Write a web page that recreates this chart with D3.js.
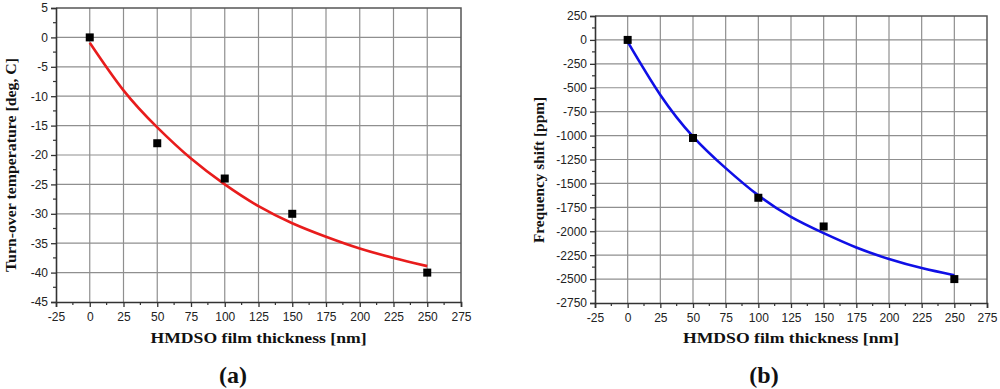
<!DOCTYPE html>
<html>
<head>
<meta charset="utf-8">
<script src="https://cdn.jsdelivr.net/npm/d3@7"></script>
<style>
  body { margin: 0; background: #fff; }
  svg { display: block; }
  .tick text { font-family: "Liberation Sans", Arial, sans-serif; font-size: 12px; fill: #222; }
  .title { font-family: "Liberation Serif", "Times New Roman", serif; font-weight: bold; fill: #111; }
</style>
</head>
<body>
<div id="chart"></div>
<script>
// measured thickness values and results
var thickness = [0, 50, 100, 150, 250];
var turnOver = [0, -18, -24, -30, -40];
var freqShift = [0, -1025, -1650, -1950, -2500];

// fitted curves
var fitX = [0, 25, 50, 75, 100, 125, 150, 175, 200, 225, 250];
var fitTurnOver = [-0.9, -9.0, -15.3, -20.6, -25.0, -28.7, -31.6, -33.9, -35.9, -37.5, -38.9];
var fitFreq = [-20, -575, -1010, -1340, -1625, -1850, -2020, -2170, -2290, -2385, -2460];

var xTicks = [-25, 0, 25, 50, 75, 100, 125, 150, 175, 200, 225, 250, 275];
var yTicksA = [5, 0, -5, -10, -15, -20, -25, -30, -35, -40, -45];
var yTicksB = [250, 0, -250, -500, -750, -1000, -1250, -1500, -1750, -2000, -2250, -2500, -2750];

var svg = d3.select("#chart").append("svg")
    .attr("width", 1000)
    .attr("height", 389);

function plain(d) { return String(d); }

function drawPanel(opt) {
    var x = d3.scaleLinear().domain([-25, 275]).range([opt.left, opt.right]);
    var y = d3.scaleLinear().domain(opt.yDomain).range([opt.bottom, opt.top]);
    var g = svg.append("g");

    // grid
    g.append("g").selectAll("line")
        .data(xTicks.slice(1, -1)).enter().append("line")
        .attr("x1", function(d) { return x(d); }).attr("x2", function(d) { return x(d); })
        .attr("y1", opt.top).attr("y2", opt.bottom)
        .style("stroke", "#8f8f8f").style("stroke-width", 1.2);
    g.append("g").selectAll("line")
        .data(opt.yTicks.slice(1, -1)).enter().append("line")
        .attr("y1", function(d) { return y(d); }).attr("y2", function(d) { return y(d); })
        .attr("x1", opt.left).attr("x2", opt.right)
        .style("stroke", "#8f8f8f").style("stroke-width", 1.2);

    // frame top / right
    g.append("path")
        .attr("d", "M" + opt.left + "," + opt.top + "H" + opt.right + "V" + opt.bottom)
        .style("fill", "none").style("stroke", "#555").style("stroke-width", 1.5);

    // minor ticks
    var xMinor = xTicks.slice(0, -1).map(function(d) { return d + 12.5; });
    var yStep = opt.yTicks[0] - opt.yTicks[1];
    var yMinor = opt.yTicks.slice(0, -1).map(function(d) { return d - yStep / 2; });

    var xAxis = d3.axisBottom(x).tickValues(xTicks).tickSize(5).tickPadding(5).tickFormat(plain);
    var yAxis = d3.axisLeft(y).tickValues(opt.yTicks).tickSize(5).tickPadding(3).tickFormat(plain);

    var gx = g.append("g").attr("transform", "translate(0," + opt.bottom + ")").call(xAxis);
    var gy = g.append("g").attr("transform", "translate(" + opt.left + ",0)").call(yAxis);
    gx.append("g").selectAll("line").data(xMinor).enter().append("line")
        .attr("x1", function(d) { return x(d); }).attr("x2", function(d) { return x(d); })
        .attr("y1", 0).attr("y2", 3).style("stroke", "#333").style("stroke-width", 1.2);
    gy.append("g").selectAll("line").data(yMinor).enter().append("line")
        .attr("y1", function(d) { return y(d); }).attr("y2", function(d) { return y(d); })
        .attr("x1", 0).attr("x2", -3).style("stroke", "#333").style("stroke-width", 1.2);
    [gx, gy].forEach(function(a) {
        a.attr("font-family", null).attr("font-size", null);
        a.select(".domain").style("stroke", "#333").style("stroke-width", 1.6);
        a.selectAll(".tick line").style("stroke", "#333").style("stroke-width", 1.3);
    });

    // fit line
    var line = d3.line()
        .x(function(d, i) { return x(fitX[i]); })
        .y(function(d) { return y(d); })
        .curve(d3.curveNatural);
    g.append("path").datum(opt.fit)
        .attr("d", line)
        .style("fill", "none").style("stroke", opt.color).style("stroke-width", 2.6);

    // markers
    g.append("g").selectAll("rect").data(opt.values).enter().append("rect")
        .attr("x", function(d, i) { return x(thickness[i]) - 4; })
        .attr("y", function(d) { return y(d) - 4; })
        .attr("width", 8).attr("height", 8)
        .style("fill", "#000");

    // titles
    var cx = (opt.left + opt.right) / 2;
    g.append("text").attr("class", "title")
        .attr("x", cx).attr("y", 343)
        .attr("text-anchor", "middle").style("font-size", "15.5px")
        .attr("textLength", 216).attr("lengthAdjust", "spacingAndGlyphs")
        .text("HMDSO film thickness [nm]");
    g.append("text").attr("class", "title")
        .attr("transform", "translate(" + opt.yTitleX + "," + opt.yTitleY + ") rotate(-90)")
        .attr("text-anchor", "middle").style("font-size", "15.5px")
        .attr("textLength", opt.yTitleLen).attr("lengthAdjust", "spacingAndGlyphs")
        .text(opt.yTitle);
    g.append("text").attr("class", "title")
        .attr("x", opt.labelX).attr("y", 383)
        .attr("text-anchor", "middle").style("font-size", "24px")
        .text(opt.label);
}

drawPanel({
    left: 56, right: 461, top: 8, bottom: 302,
    yDomain: [-45, 5], yTicks: yTicksA,
    values: turnOver, fit: fitTurnOver, color: "#e81c1c",
    yTitle: "Turn-over temperature [deg, C]", yTitleX: 16, yTitleY: 165, yTitleLen: 214,
    label: "(a)", labelX: 233
});

drawPanel({
    left: 595, right: 987, top: 16, bottom: 303,
    yDomain: [-2750, 250], yTicks: yTicksB,
    values: freqShift, fit: fitFreq, color: "#0f0fe6",
    yTitle: "Frequency shift [ppm]", yTitleX: 544, yTitleY: 170, yTitleLen: 146,
    label: "(b)", labelX: 764
});
</script>
</body>
</html>
